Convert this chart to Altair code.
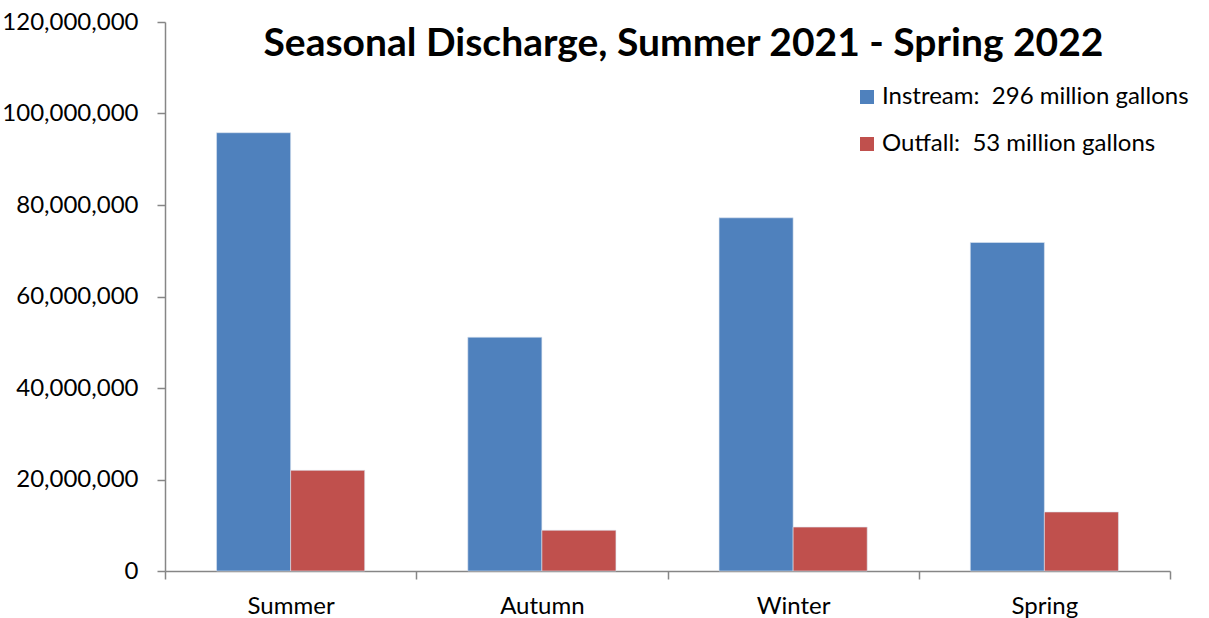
import altair as alt
import pandas as pd

# Seasonal discharge volumes (gallons)
seasons = ["Summer", "Autumn", "Winter", "Spring"]
series_names = ["Instream:\u00a0 296 million gallons", "Outfall:\u00a0 53 million gallons"]
instream = [95_800_000, 51_100_000, 77_200_000, 71_800_000]
outfall = [22_000_000, 8_900_000, 9_600_000, 12_900_000]
colors = ["#4F81BD", "#C0504D"]

rows = []
for s, a, b in zip(seasons, instream, outfall):
    rows.append({"season": s, "series": series_names[0], "gallons": a})
    rows.append({"season": s, "series": series_names[1], "gallons": b})
df = pd.DataFrame(rows)

FONT = "Lato"
LABEL_SIZE = 24
AXIS_GRAY = "#868686"

bars = alt.Chart(df).mark_bar(stroke="#dbe4f0", strokeWidth=0.6).encode(
    x=alt.X(
        "season:N",
        sort=seasons,
        scale=alt.Scale(paddingInner=0, paddingOuter=0),
        axis=alt.Axis(
            title=None,
            labelAngle=0,
            tickBand="extent",
            tickSize=8,
            tickColor=AXIS_GRAY,
            tickWidth=1.5,
            domainColor=AXIS_GRAY,
            domainWidth=1.5,
            labelFont=FONT,
            labelFontSize=LABEL_SIZE,
            labelColor="#000000",
            labelPadding=15,
        ),
    ),
    xOffset=alt.XOffset(
        "series:N",
        sort=series_names,
        scale=alt.Scale(paddingInner=0, paddingOuter=0.696),
    ),
    y=alt.Y(
        "gallons:Q",
        scale=alt.Scale(domain=[0, 120_000_000], nice=False),
        axis=alt.Axis(
            title=None,
            format=",d",
            values=[0, 20_000_000, 40_000_000, 60_000_000, 80_000_000, 100_000_000, 120_000_000],
            grid=False,
            tickSize=8,
            tickColor=AXIS_GRAY,
            tickWidth=1.5,
            domainColor=AXIS_GRAY,
            domainWidth=1.5,
            labelFont=FONT,
            labelFontSize=LABEL_SIZE,
            labelColor="#000000",
            labelPadding=19,
        ),
    ),
    color=alt.Color(
        "series:N",
        sort=series_names,
        scale=alt.Scale(domain=series_names, range=colors),
        legend=alt.Legend(
            title=None,
            orient="none",
            legendX=690,
            legendY=63,
            symbolType="square",
            symbolSize=196,
            symbolStrokeWidth=0,
            labelFont=FONT,
            labelFontSize=LABEL_SIZE,
            labelColor="#000000",
            labelOffset=3,
            rowPadding=23,
            labelLimit=400,
        ),
    ),
)

chart = bars.properties(
    width=1005,
    height=549,
    background="white",
    autosize=alt.AutoSizeParams(type="none"),
    padding={"left": 165, "top": 22, "right": 39, "bottom": 47},
    title=alt.TitleParams(
        "Seasonal Discharge, Summer 2021 - Spring 2022",
        font=FONT,
        fontSize=39,
        fontWeight="bold",
        color="#000000",
        anchor="middle",
        dx=16,
        dy=58,
    ),
).configure_view(strokeWidth=0)

chart.save("out.html", embed_options={"renderer": "svg", "actions": False})
